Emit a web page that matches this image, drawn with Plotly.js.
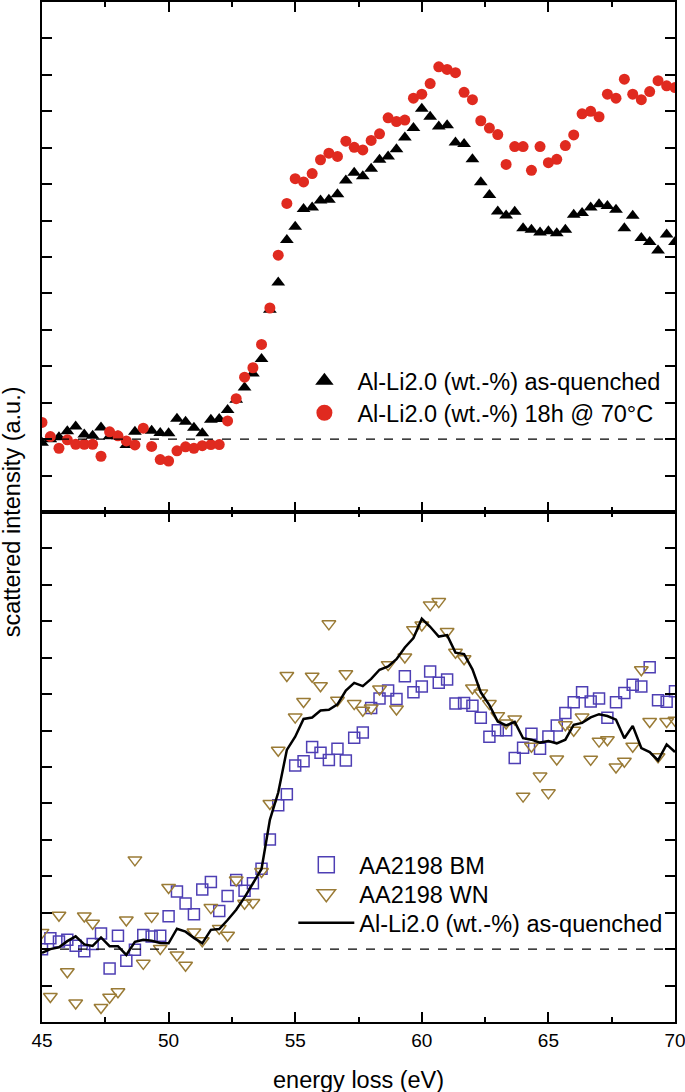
<!DOCTYPE html>
<html>
<head>
<meta charset="utf-8">
<script src="https://cdn.plot.ly/plotly-3.0.1.min.js"></script>
<style>
  html, body { margin: 0; padding: 0; background: #fff; }
  #chart { width: 685px; height: 1092px; }
</style>
</head>
<body>
<div id="chart"></div>
<script>
// energy loss (eV)
const energy = [45, 45.33, 45.67, 46, 46.33, 46.67, 47, 47.33, 47.67, 48, 48.33, 48.67, 49, 49.33, 49.67,
  50, 50.33, 50.67, 51, 51.33, 51.67, 52, 52.33, 52.67, 53, 53.33, 53.67, 54, 54.33, 54.67,
  55, 55.33, 55.67, 56, 56.33, 56.67, 57, 57.33, 57.67, 58, 58.33, 58.67, 59, 59.33, 59.67,
  60, 60.33, 60.67, 61, 61.33, 61.67, 62, 62.33, 62.67, 63, 63.33, 63.67, 64, 64.33, 64.67,
  65, 65.33, 65.67, 66, 66.33, 66.67, 67, 67.33, 67.67, 68, 68.33, 68.67, 69, 69.33, 69.67, 70];

// Al-Li2.0 (wt.-%) as-quenched (top panel triangles, bottom panel line)
const asQuenched = [-0.1, 0.0, 0.05, 0.22, 0.35, 0.13, 0.09, 0.32, 0.08, 0.08, -0.16, 0.2, 0.26, 0.23, 0.17,
  0.16, 0.56, 0.48, 0.31, 0.16, 0.53, 0.55, 0.8, 1.08, 1.42, 1.8, 2.2, 3.55, 4.3, 5.47,
  5.83, 6.32, 6.36, 6.55, 6.57, 6.72, 7.1, 7.31, 7.22, 7.42, 7.67, 7.76, 7.96, 8.28, 8.54,
  9.07, 8.85, 8.58, 8.62, 8.14, 8.1, 7.68, 7.05, 6.7, 6.25, 6.14, 6.24, 5.79, 5.75, 5.67,
  5.71, 5.65, 5.75, 6.16, 6.21, 6.36, 6.45, 6.4, 6.3, 5.79, 6.13, 5.52, 5.41, 5.18, 5.62, 5.41];

// Al-Li2.0 (wt.-%) 18h @ 70°C
const aged18h = [0.46, 0.07, -0.25, -0.02, -0.14, -0.14, -0.14, -0.47, 0.2, 0.09, -0.05, -0.16, 0.3, -0.2, -0.56,
  -0.6, -0.32, -0.21, -0.25, -0.18, -0.15, -0.15, 0.5, 1.11, 1.7, 1.96, 2.6, 3.6, 5.05, 6.47,
  7.15, 7.06, 7.29, 7.67, 7.85, 7.76, 8.18, 8.01, 7.94, 8.2, 8.38, 8.82, 8.72, 8.76, 9.36,
  9.47, 9.76, 10.22, 10.15, 10.06, 9.52, 9.32, 8.74, 8.54, 8.36, 7.54, 8.03, 8.03, 7.38, 8.03,
  7.59, 7.68, 8.06, 8.35, 8.93, 9.0, 8.85, 9.47, 9.36, 9.88, 9.47, 9.32, 9.54, 9.84, 9.7, 9.65];

// AA2198 BM
const aa2198BM = [0.0, 0.3, 0.21, 0.26, 0.09, -0.06, 0.14, 0.43, -0.53, 0.37, -0.32, -0.02, 0.39, 0.35, 0.37,
  0.9, 1.58, 1.25, 0.96, 1.64, 1.84, 1.05, 1.46, 1.9, 1.6, 1.81, 2.21, 3.01, 3.95, 4.25,
  5.04, 5.16, 5.55, 5.39, 5.19, 5.5, 5.18, 5.8, 5.95, 6.62, 6.88, 7.1, 6.87, 7.49, 7.05,
  7.21, 7.62, 7.31, 7.4, 6.74, 6.76, 6.68, 6.35, 5.83, 6.01, 6.01, 5.25, 5.53, 5.91, 5.5,
  5.84, 6.14, 6.48, 6.78, 7.05, 6.8, 6.88, 6.35, 6.78, 7.03, 7.26, 7.21, 7.74, 6.83, 6.79, 7.08];

// AA2198 WN
const aa2198WN = [0.46, -1.3, 0.93, -0.62, -1.48, 0.91, 0.71, -1.6, -1.32, -1.17, 0.8, 2.45, -0.39, 0.9, 0.02,
  1.69, -0.16, -0.44, 0.47, 0.23, 1.14, 0.57, 0.38, 1.9, 1.26, 1.28, 2.13, 4.0, 5.46, 7.51,
  6.37, 6.8, 7.49, 7.23, 8.93, 6.83, 7.56, 6.74, 6.56, 6.62, 7.14, 7.81, 6.59, 8.02, 8.77,
  8.9, 9.45, 9.54, 8.72, 8.15, 7.97, 7.17, 7.03, 6.74, 6.41, 6.21, 6.32, 4.2, 5.57, 4.75,
  4.29, 5.22, 6.16, 6.01, 6.37, 5.21, 5.71, 5.75, 5.0, 5.16, 5.57, 7.67, 6.25, 5.28, 6.25, 6.28];

const seriesNames = ['Al-Li2.0 (wt.-%) as-quenched', 'Al-Li2.0 (wt.-%) 18h @ 70°C', 'AA2198 BM', 'AA2198 WN'];
const xTickVals = [45, 50, 55, 60, 65, 70];
const xRange = [45, 70];
const yRange = [-2, 12];

const FONT = 'Liberation Sans, Arial, Helvetica, sans-serif';
const RED = '#e02a1f';
const BLUE = '#4e3fb4';
const OLIVE = '#9a7b36';

const mkTri = {symbol: 'triangle-up', color: '#000'};
const mkCirc = {symbol: 'circle', color: RED};
const mkSq = {symbol: 'square-open', color: BLUE, line: {width: 1.5, color: BLUE}};
const mkTriDn = {symbol: 'triangle-down-open', color: OLIVE, line: {width: 1.5, color: OLIVE}};

const traces = [
  // data traces
  {x: energy, y: asQuenched, xaxis: 'x2', yaxis: 'y2', type: 'scatter', mode: 'markers', showlegend: false,
   marker: Object.assign({size: 12}, mkTri)},
  {x: energy, y: aged18h, xaxis: 'x2', yaxis: 'y2', type: 'scatter', mode: 'markers', showlegend: false,
   marker: Object.assign({size: 11}, mkCirc)},
  {x: energy, y: aa2198BM, xaxis: 'x', yaxis: 'y', type: 'scatter', mode: 'markers', showlegend: false,
   marker: Object.assign({size: 11}, mkSq)},
  {x: energy, y: aa2198WN, xaxis: 'x', yaxis: 'y', type: 'scatter', mode: 'markers', showlegend: false,
   marker: Object.assign({size: 12}, mkTriDn)},
  {x: energy, y: asQuenched, xaxis: 'x', yaxis: 'y', type: 'scatter', mode: 'lines', showlegend: false,
   line: {color: '#000', width: 2.5}},
  // legend keys (larger symbols, no data drawn)
  {x: [null], y: [null], xaxis: 'x2', yaxis: 'y2', type: 'scatter', mode: 'markers',
   name: seriesNames[0], legend: 'legend', marker: Object.assign({size: 20}, mkTri)},
  {x: [null], y: [null], xaxis: 'x2', yaxis: 'y2', type: 'scatter', mode: 'markers',
   name: seriesNames[1], legend: 'legend2', marker: Object.assign({size: 20}, mkCirc)},
  {x: [null], y: [null], xaxis: 'x', yaxis: 'y', type: 'scatter', mode: 'markers',
   name: seriesNames[2], legend: 'legend3', marker: Object.assign({size: 20}, mkSq)},
  {x: [null], y: [null], xaxis: 'x', yaxis: 'y', type: 'scatter', mode: 'markers',
   name: seriesNames[3], legend: 'legend4', marker: Object.assign({size: 20}, mkTriDn)},
  {x: [null], y: [null], xaxis: 'x', yaxis: 'y', type: 'scatter', mode: 'lines',
   name: seriesNames[0], legend: 'legend5', line: {color: '#000', width: 2.5}}
];

const xCommon = {
  range: xRange, tickvals: xTickVals, ticks: 'inside', ticklen: 10, tickwidth: 2,
  tickcolor: '#000', showline: true, linewidth: 2, linecolor: '#000', mirror: 'ticks',
  showgrid: false, zeroline: false, ticklabeloverflow: 'allow',
  minor: {dtick: 2.5, ticks: 'inside', ticklen: 5, tickwidth: 2, tickcolor: '#000', showgrid: false},
  tickfont: {family: FONT, size: 19, color: '#000'}
};
const yCommon = {
  range: yRange, dtick: 1, tick0: 0, ticks: 'inside', ticklen: 10, tickwidth: 2,
  tickcolor: '#000', showline: true, linewidth: 2, linecolor: '#000', mirror: 'ticks',
  showgrid: false, zeroline: false, showticklabels: false
};

function legendAt(xPaper, yPaper) {
  return {
    font: {family: FONT, size: 23.5, color: '#000'}, bgcolor: 'rgba(0,0,0,0)',
    borderwidth: 0, xanchor: 'left', yanchor: 'middle', itemwidth: 56, tracegroupgap: 0,
    x: xPaper, y: yPaper
  };
}

const layout = {
  width: 685, height: 1092,
  margin: {l: 42, r: 10, t: 2, b: 70},
  paper_bgcolor: '#fff', plot_bgcolor: '#fff',
  showlegend: true,
  font: {family: FONT, color: '#000'},
  xaxis: Object.assign({}, xCommon, {anchor: 'y', domain: [0, 1]}),
  xaxis2: Object.assign({}, xCommon, {anchor: 'y2', matches: 'x', showticklabels: false}),
  yaxis: Object.assign({}, yCommon, {domain: [0, 0.5]}),
  yaxis2: Object.assign({}, yCommon, {domain: [0.5, 1]}),
  legend: legendAt(0.394, 0.6284),
  legend2: legendAt(0.394, 0.5971),
  legend3: legendAt(0.397, 0.1539),
  legend4: legendAt(0.397, 0.1255),
  legend5: legendAt(0.397, 0.0971),
  shapes: [
    {type: 'line', xref: 'x2 domain', yref: 'y2', x0: 0, x1: 1, y0: 0, y1: 0,
     line: {color: '#000', width: 1.2, dash: 'dash'}},
    {type: 'line', xref: 'x domain', yref: 'y', x0: 0, x1: 1, y0: 0, y1: 0,
     line: {color: '#000', width: 1.2, dash: 'dash'}}
  ],
  annotations: [
    {text: 'scattered intensity (a.u.)', xref: 'paper', yref: 'paper', x: -0.047, y: 0.5,
     textangle: -90, showarrow: false, xanchor: 'center', yanchor: 'middle',
     font: {family: FONT, size: 23.5, color: '#000'}},
    {text: 'energy loss (eV)', xref: 'paper', yref: 'paper', x: 0.5, y: -0.057,
     showarrow: false, xanchor: 'center', yanchor: 'middle',
     font: {family: FONT, size: 23.5, color: '#000'}}
  ]
};

Plotly.newPlot('chart', traces, layout, {displayModeBar: false, staticPlot: true});
</script>
</body>
</html>
